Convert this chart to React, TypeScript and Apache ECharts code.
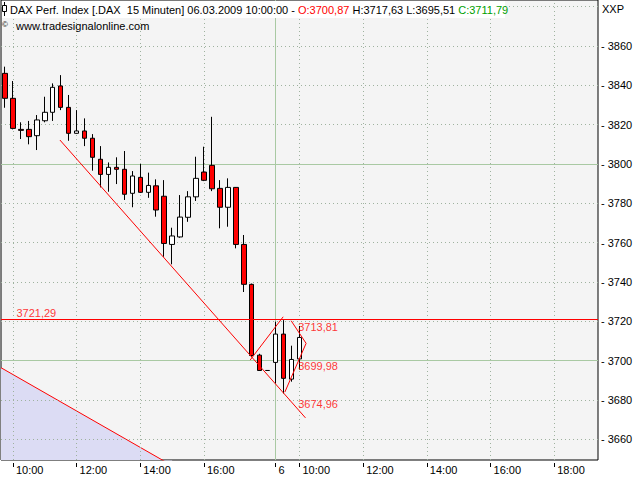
import React, { useEffect, useRef } from "react";
import * as echarts from "echarts";

// ---------- data ----------
const instrument = "DAX Perf. Index [.DAX  15 Minuten]";
const lastStamp = "06.03.2009 10:00:00";

function slots(day: string, startMin: number, endMin: number): string[] {
  const out: string[] = [];
  for (let m = startMin; m <= endMin; m += 15) {
    const h = String(Math.floor(m / 60)).padStart(2, "0");
    const mm = String(m % 60).padStart(2, "0");
    out.push(`${day} ${h}:${mm}`);
  }
  return out;
}
const categories: string[] = [
  ...slots("05.03", 9 * 60 + 45, 18 * 60),
  ...slots("06.03", 9 * 60 + 15, 19 * 60 + 15),
];

const xTickCats = ["05.03 10:00", "05.03 12:00", "05.03 14:00", "05.03 16:00", "06.03 09:15", "06.03 10:00", "06.03 12:00", "06.03 14:00", "06.03 16:00", "06.03 18:00"];
const xTickTexts = ["10:00", "12:00", "14:00", "16:00", "6", "10:00", "12:00", "14:00", "16:00", "18:00"];
const daySeparator = "06.03 09:15";

const opens = [3846.1, 3833.4, 3817.6, 3817.6, 3814.4, 3822.0, 3826.3, 3839.7, 3828.8, 3815.6, 3816.8, 3813.1, 3802.4, 3794.7, 3798.3, 3797.3, 3785.1, 3793.2, 3785.6, 3788.9, 3783.6, 3759.1, 3762.9, 3772.9, 3783.3, 3795.9, 3799.3, 3787.6, 3778.0, 3788.1, 3759.1, 3738.8, 3702.8, 3695.0, 3699.1, 3713.5, 3690.6, 3700.87];
const highs = [3849.5, 3842.2, 3821.2, 3821.9, 3824.9, 3834.2, 3841.0, 3845.2, 3835.1, 3827.4, 3823.2, 3815.2, 3809.1, 3800.8, 3803.4, 3806.6, 3796.4, 3800.0, 3795.6, 3792.2, 3791.8, 3767.6, 3784.2, 3786.2, 3803.7, 3808.8, 3824.0, 3791.8, 3792.7, 3788.3, 3763.9, 3739.2, 3703.5, 3695.0, 3719.8, 3720.6, 3707.6, 3717.63];
const lows = [3828.6, 3817.6, 3812.7, 3810.0, 3807.1, 3821.2, 3821.9, 3827.4, 3811.8, 3815.4, 3809.1, 3796.6, 3788.1, 3785.9, 3789.8, 3781.7, 3778.0, 3785.3, 3782.8, 3773.2, 3752.8, 3749.0, 3762.5, 3770.6, 3781.2, 3791.3, 3786.2, 3767.3, 3768.1, 3757.1, 3734.9, 3701.8, 3694.8, 3695.0, 3688.4, 3683.3, 3689.3, 3695.51];
const closes = [3833.4, 3818.1, 3817.1, 3813.9, 3822.4, 3826.3, 3839.0, 3828.8, 3815.6, 3816.8, 3813.1, 3803.4, 3794.7, 3798.3, 3797.3, 3784.6, 3793.9, 3785.6, 3789.1, 3776.6, 3759.6, 3763.4, 3773.0, 3783.3, 3792.7, 3791.7, 3787.4, 3778.0, 3788.1, 3759.1, 3738.8, 3702.6, 3695.0, 3695.0, 3713.5, 3691.0, 3700.6, 3711.79];

const yMin = 3649.47;
const yMax = 3883.4;
const yGridTicks = [3660, 3680, 3700, 3720, 3740, 3760, 3780, 3800, 3820, 3840, 3860, 3880];
const greenLevels = [3700, 3800];
const markLevel = 3721.29;

// drawing-tool lines, in [bar index, price]
const trendLine = [[6.9, 3812.2], [37.75, 3670.9]];
const wedgeLeft = [[30.8, 3700.3], [34.95, 3722.3]];
const wedgeRight = [[35.95, 3720.3], [37.83, 3708.8], [35.16, 3684.0]];
const lowerBandLine = [[-0.5, 3696.4], [21, 3646.6]];

const annotationValues = [3721.29, 3713.81, 3699.98, 3674.96];
const annotationIdx = [1.5, 36.9, 36.9, 36.9];

// ---------- helpers ----------
const FONT = "'Liberation Sans', Arial, sans-serif";
const fmt = (v: number) => v.toFixed(2).replace(".", ",");
const RED = "#ff0000";
const GREEN_LINE = "#a9c9a3";
const DOT = { color: "#9fb29f", type: [1, 3] as any, width: 1 };

export default function App() {
  const ref = useRef<HTMLDivElement>(null);

  useEffect(() => {
    if (!ref.current) return;
    const chart = echarts.init(ref.current, undefined, { renderer: "svg" });
    const last = opens.length - 1;
    const isTick = (_i: number, v: string) => xTickCats.indexOf(v) >= 0;

    const gridLineData: any[] = [];
    xTickCats.forEach((c) => {
      if (c !== daySeparator) gridLineData.push({ xAxis: c, lineStyle: DOT });
    });
    yGridTicks.forEach((v) => {
      if (greenLevels.indexOf(v) < 0) gridLineData.push({ yAxis: v, lineStyle: DOT });
    });
    greenLevels.forEach((v) => gridLineData.push({ yAxis: v, lineStyle: { color: GREEN_LINE, type: "solid", width: 1 } }));
    gridLineData.push({ xAxis: daySeparator, lineStyle: { color: GREEN_LINE, type: "solid", width: 1 } });

    const redLine = (data: number[][], name: string) => ({
      type: "line",
      name,
      xAxisIndex: 2,
      yAxisIndex: 0,
      data,
      symbol: "none",
      z: 5,
      silent: true,
      itemStyle: { color: RED },
      lineStyle: { color: RED, width: 1 },
    });

    const option: any = {
      animation: false,
      backgroundColor: "#ffffff",
      textStyle: { fontFamily: FONT },
      grid: {
        left: 1,
        top: 0,
        right: 42,
        bottom: 20,
        show: true,
        backgroundColor: "#f4f4f4",
        borderColor: "#000",
        borderWidth: 1,
      },
      xAxis: [
        {
          type: "category",
          data: categories,
          boundaryGap: true,
          axisLine: { show: false },
          axisTick: { show: false },
          axisLabel: { show: false },
          splitLine: { show: false },
        },
        {
          type: "category",
          data: categories,
          boundaryGap: true,
          position: "bottom",
          offset: 3,
          axisLine: { show: false },
          axisTick: { show: true, alignWithLabel: true, interval: isTick, length: 4, lineStyle: { color: "#000", width: 1 } },
          axisLabel: {
            show: true,
            interval: isTick,
            align: "left",
            margin: 1,
            padding: [0, 0, 0, 3],
            color: "#000",
            fontSize: 11,
            fontFamily: FONT,
            formatter: (v: string) => {
              const k = xTickCats.indexOf(v);
              return k >= 0 ? xTickTexts[k] : "";
            },
          },
          splitLine: { show: false },
        },
        {
          type: "value",
          min: -0.5,
          max: categories.length - 0.5,
          show: false,
        },
      ],
      yAxis: [
        {
          type: "value",
          position: "right",
          min: yMin,
          max: yMax,
          splitNumber: 12,
          minInterval: 20,
          maxInterval: 20,
          axisLine: { show: false },
          axisTick: { show: false },
          splitLine: { show: false },
          axisLabel: {
            margin: 3,
            color: "#000",
            fontSize: 11,
            fontFamily: FONT,
            showMinLabel: true,
            showMaxLabel: true,
            formatter: (v: number) => (Math.abs(v - Math.round(v / 20) * 20) < 1e-6 && v < 3870 ? "- " + Math.round(v) : ""),
          },
        },
      ],
      series: [
        {
          type: "line",
          name: "band",
          xAxisIndex: 2,
          yAxisIndex: 0,
          data: lowerBandLine,
          symbol: "none",
          z: 1,
          silent: true,
          itemStyle: { color: RED },
          lineStyle: { color: RED, width: 1 },
          areaStyle: { color: "#dcdcf4", opacity: 1, origin: "start" },
        },
        {
          type: "candlestick",
          name: "DAX",
          xAxisIndex: 0,
          yAxisIndex: 0,
          z: 4,
          barWidth: 5,
          silent: true,
          data: opens.map((o, i) => [o, closes[i], lows[i], highs[i]]),
          itemStyle: {
            color: "#ffffff",
            color0: RED,
            borderColor: "#000",
            borderColor0: "#000",
            borderColorDoji: "#000",
            borderWidth: 1,
          },
          markLine: {
            z: 2,
            silent: true,
            symbol: ["none", "none"],
            label: { show: false },
            animation: false,
            data: gridLineData,
          },
        },
        {
          ...redLine(trendLine, "trend"),
          markLine: {
            z: 5,
            silent: true,
            symbol: ["none", "none"],
            label: { show: false },
            animation: false,
            lineStyle: { color: RED, type: "solid", width: 1, opacity: 1 },
            data: [{ yAxis: markLevel, lineStyle: { color: RED, type: "solid", width: 1, opacity: 1 } }],
          },
        },
        redLine(wedgeLeft, "wedgeL"),
        redLine(wedgeRight, "wedgeR"),
        {
          type: "scatter",
          xAxisIndex: 2,
          yAxisIndex: 0,
          symbolSize: 1,
          z: 6,
          silent: true,
          itemStyle: { color: "transparent" },
          data: annotationValues.map((v, i) => ({
            value: [annotationIdx[i], v],
            label: {
              show: true,
              position: [0, 0],
              align: "left",
              verticalAlign: v === 3699.98 ? "top" : "bottom",
              formatter: fmt(v),
              color: RED,
              fontSize: 11,
              fontFamily: FONT,
            },
          })),
        },
      ],
      graphic: [
        { type: "rect", shape: { x: 2, y: 1, width: 503, height: 17 }, style: { fill: "#ffffff" }, z: 100, silent: true },
        { type: "line", shape: { x1: 4.5, y1: 2, x2: 4.5, y2: 16 }, style: { stroke: "#000", lineWidth: 1 }, z: 101, silent: true },
        { type: "rect", shape: { x: 2.5, y: 5.5, width: 4, height: 6 }, style: { fill: "#ffffff", stroke: "#000", lineWidth: 1 }, z: 102, silent: true },
        {
          type: "text",
          x: 10,
          y: 9.5,
          z: 103,
          silent: true,
          style: {
            text:
              `{k|${instrument} ${lastStamp} - }{r|O:${fmt(opens[last])}}{k| H:${fmt(highs[last])} L:${fmt(lows[last])} }{g|C:${fmt(closes[last])}}`,
            verticalAlign: "middle",
            fontSize: 11,
            fontFamily: FONT,
            rich: {
              k: { fill: "#000", fontSize: 11, fontFamily: FONT },
              r: { fill: "#ff0000", fontSize: 11, fontFamily: FONT },
              g: { fill: "#00a000", fontSize: 11, fontFamily: FONT },
            },
          },
        },
        {
          type: "text",
          x: 2,
          y: 24.5,
          z: 103,
          silent: true,
          style: { text: "©", fill: "#000", fontSize: 8, fontFamily: FONT, verticalAlign: "middle" },
        },
        {
          type: "text",
          x: 16,
          y: 26,
          z: 103,
          silent: true,
          style: { text: "www.tradesignalonline.com", fill: "#000", fontSize: 11, fontFamily: FONT, verticalAlign: "middle" },
        },
        {
          type: "text",
          x: 602,
          y: 8.5,
          z: 103,
          silent: true,
          style: { text: "XXP", fill: "#000", fontSize: 11, fontFamily: FONT, verticalAlign: "middle" },
        },
      ],
    };

    chart.setOption(option);
    return () => chart.dispose();
  }, []);

  return <div ref={ref} style={{ position: "fixed", left: 0, top: 0, width: 640, height: 480 }} />;
}
